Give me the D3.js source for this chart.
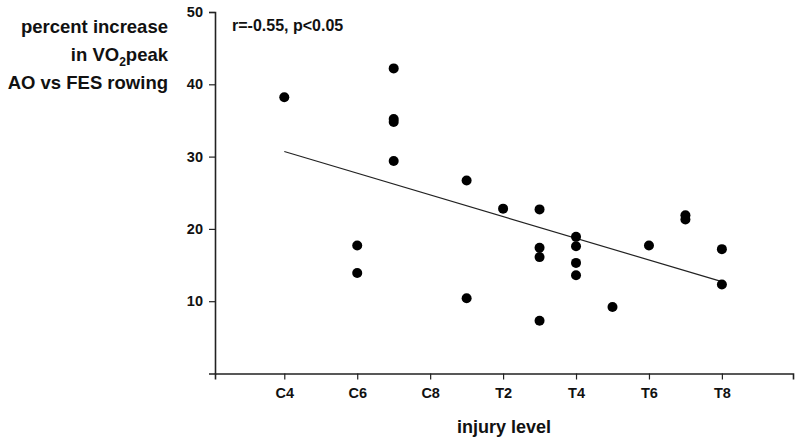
<!DOCTYPE html>
<html>
<head>
<meta charset="utf-8">
<script src="https://d3js.org/d3.v7.min.js"></script>
<style>
  body { margin: 0; background: #fff; }
  text { font-family: "Liberation Sans", Arial, sans-serif; font-weight: bold; fill: #111; }
</style>
</head>
<body>
<svg width="800" height="446"></svg>
<script>

// injury levels in order along the x axis
var levels = ['C4', 'C5', 'C6', 'C7', 'C8', 'T1', 'T2', 'T3', 'T4', 'T5', 'T6', 'T7', 'T8'];
var tickLabels = ['C4', 'C6', 'C8', 'T2', 'T4', 'T6', 'T8'];
var yTicks = [10, 20, 30, 40, 50];

// one entry per subject
var injuryLevel = ['C4', 'C6', 'C6', 'C7', 'C7', 'C7', 'C7', 'T1', 'T1', 'T2',
    'T3', 'T3', 'T3', 'T3', 'T4', 'T4', 'T4', 'T4', 'T5', 'T6', 'T7', 'T7', 'T8', 'T8'];
var vo2Increase = [38.2, 17.7, 13.9, 42.2, 35.2, 34.8, 29.4, 26.7, 10.4, 22.8,
    22.7, 17.4, 16.1, 7.3, 18.9, 17.6, 15.3, 13.6, 9.2, 17.7, 21.9, 21.3, 17.2, 12.3];

// regression line end points
var fitLevels = ['C4', 'T8'];
var fitValues = [30.7, 12.7];

var svg = d3.select('svg');

var x = d3.scaleLinear().domain([-1.9, 13.95]).range([215, 793]);
var y = d3.scaleLinear().domain([0, 50]).range([373.5, 12]);

function lx(name) { return x(levels.indexOf(name)); }

// axes
svg.append('g')
    .attr('transform', 'translate(0,373.5)')
    .call(d3.axisBottom(x)
        .tickValues(tickLabels.map(function (d) { return levels.indexOf(d); }))
        .tickFormat(function (d) { return levels[d]; })
        .tickSizeOuter(0)
        .tickSize(6)
        .tickPadding(8));

svg.append('g')
    .attr('transform', 'translate(215,0)')
    .call(d3.axisLeft(y)
        .tickValues(yTicks)
        .tickSizeOuter(0)
        .tickSize(6)
        .tickPadding(6));

svg.selectAll('.domain').attr('stroke', '#222').attr('stroke-width', 1.6);
svg.selectAll('.tick line').attr('stroke', '#222').attr('stroke-width', 1.2);
svg.selectAll('.tick text')
    .attr('font-family', '"Liberation Sans", Arial, sans-serif')
    .attr('font-weight', 'bold')
    .attr('font-size', 14.5)
    .attr('fill', '#111');

// regression line
svg.append('line')
    .attr('x1', lx(fitLevels[0]))
    .attr('y1', y(fitValues[0]))
    .attr('x2', lx(fitLevels[1]))
    .attr('y2', y(fitValues[1]))
    .attr('stroke', '#222')
    .attr('stroke-width', 1.2);

// points
svg.append('g')
    .selectAll('circle')
    .data(vo2Increase)
    .enter()
    .append('circle')
    .attr('cx', function (d, i) { return lx(injuryLevel[i]); })
    .attr('cy', function (d) { return y(d); })
    .attr('r', 5)
    .attr('fill', '#000');

// annotation
svg.append('text')
    .attr('x', 232)
    .attr('y', 31)
    .attr('font-size', 16)
    .text('r=-0.55, p<0.05');

// y axis title (three right-aligned lines)
var yt = svg.append('g').attr('text-anchor', 'end').attr('font-size', 18.5);
yt.append('text').attr('x', 168).attr('y', 33).text('percent increase');
var l2 = yt.append('text').attr('x', 168).attr('y', 61);
l2.append('tspan').text('in VO');
l2.append('tspan').attr('font-size', 12).attr('dy', 5).text('2');
l2.append('tspan').attr('dy', -5).text('peak');
yt.append('text').attr('x', 168).attr('y', 89).text('AO vs FES rowing');

// x axis title
svg.append('text')
    .attr('x', 504)
    .attr('y', 433)
    .attr('text-anchor', 'middle')
    .attr('font-size', 18)
    .text('injury level');

</script>
</body>
</html>
